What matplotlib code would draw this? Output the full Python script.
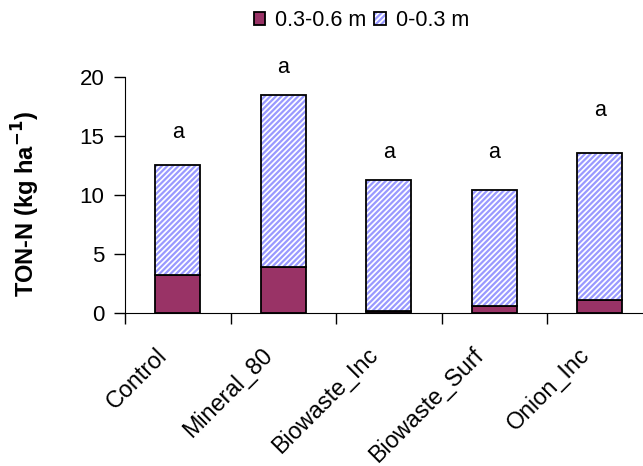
import matplotlib
matplotlib.use("Agg")
import matplotlib.pyplot as plt
from matplotlib.ticker import FixedLocator
from matplotlib.transforms import ScaledTranslation
import numpy as np

plt.rcParams["font.family"] = ["Liberation Sans", "DejaVu Sans"]
plt.rcParams["hatch.linewidth"] = 1.6

treatments = ["Control", "Mineral_80", "Biowaste_Inc", "Biowaste_Surf", "Onion_Inc"]
deep = [3.2, 3.9, 0.15, 0.62, 1.13]          # 0.3-0.6 m
total = [12.54, 18.47, 11.27, 10.45, 13.56]
shallow = [t - d for t, d in zip(total, deep)]  # 0-0.3 m
letters = ["a", "a", "a", "a", "a"]
letter_y = [15.3, 20.8, 13.6, 13.6, 17.2]

fig = plt.figure(figsize=(6.43, 4.66), dpi=100)
ax = fig.add_axes([0.1944, 0.3283, 0.8204, 0.5064])

x = np.arange(len(treatments))
w = 0.43
b1 = ax.bar(x, deep, w, color="#993366", edgecolor="black", linewidth=1.3)
# hatch drawn in blue, outline drawn separately in black
h2 = ax.bar(x, shallow, w, bottom=deep, color="white", edgecolor="#9999FF", linewidth=0,
            hatch="//////")
o2 = ax.bar(x, shallow, w, bottom=deep, fill=False, edgecolor="black", linewidth=1.3)

for xi, lt, ly in zip(x, letters, letter_y):
    ax.text(xi, ly, lt, ha="center", va="center", fontsize=15.5)

ax.set_xlim(-0.5, 4.5)
ax.set_ylim(0, 20)
ax.set_yticks([0, 5, 10, 15, 20])
ax.tick_params(axis="y", labelsize=16, length=8, width=1, direction="out", pad=7)

ax.set_xticks(x)
ax.set_xticklabels(treatments, rotation=45, ha="right", rotation_mode="anchor", fontsize=16.8)
ax.tick_params(axis="x", which="major", length=0, pad=22)
shift = ScaledTranslation(-22 / 100, 0, fig.dpi_scale_trans)
for lab in ax.get_xticklabels():
    lab.set_transform(lab.get_transform() + shift)
ax.xaxis.set_minor_locator(FixedLocator(np.arange(-0.5, 5, 1.0)))
ax.tick_params(axis="x", which="minor", length=8, width=1, direction="out")

ax.spines["top"].set_visible(False)
ax.spines["right"].set_visible(False)
ax.set_ylabel("TON-N (kg ha$\\mathbf{^{-1}}$)", fontsize=17, fontweight="bold")
ax.yaxis.set_label_coords(-0.158, 0.464)

fig.legend([b1[0], (h2[0], o2[0])], ["0.3-0.6 m", "0-0.3 m"],
           loc="center", bbox_to_anchor=(0.562, 0.955), ncol=2, frameon=False,
           fontsize=15.5, handlelength=0.55, handleheight=0.55, handletextpad=0.45,
           columnspacing=0.37, borderpad=0, borderaxespad=0)

fig.savefig("out.png", dpi=100)
